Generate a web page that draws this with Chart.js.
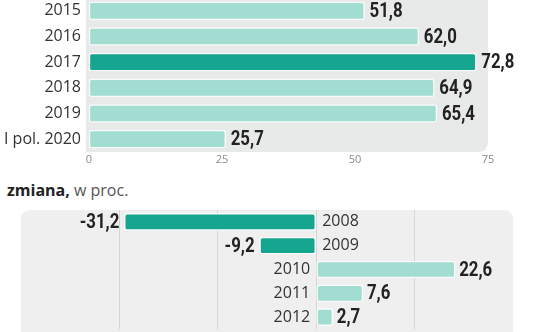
<!DOCTYPE html>
<html>
<head>
<meta charset="utf-8">
<script src="https://cdn.jsdelivr.net/npm/chart.js@4"></script>
<style>
  body { margin: 0; background: #fff; width: 536px; height: 332px; overflow: hidden; position: relative; }
  canvas { position: absolute; left: 0; }
  #top { top: -3px; }
  #bottom { top: 200px; }
  #title { position: absolute; left: 7px; top: 180px; font-family: "Open Sans", sans-serif; font-size: 16px; line-height: 20px; color: #555; }
  #title b { color: #222; font-weight: 700; }
</style>
</head>
<body>
<canvas id="top" width="536" height="180"></canvas>
<div id="title"><b>zmiana,</b> w proc.</div>
<canvas id="bottom" width="536" height="132"></canvas>
<script>
// top chart: values
const years = ['2015', '2016', '2017', '2018', '2019', 'I pol. 2020'];
const values = [51.8, 62.0, 72.8, 64.9, 65.4, 25.7];
const xTicks = [0, 25, 50, 75];

// bottom chart: change, in percent
const changeYears = ['2008', '2009', '2010', '2011', '2012'];
const changes = [-31.2, -9.2, 22.6, 7.6, 2.7];

const LIGHT = '#a2ddd2';
const DARK = '#16a58e';
const valueFont = 'bold 20px Roboto, sans-serif';
const catFont = '16px "Open Sans", sans-serif';
const SQUEEZE = 0.84;

function fmt(v) {
  return v.toFixed(1).replace('.', ',');
}

// condensed bold number: squeeze horizontally around the anchor
function drawValue(ctx, text, x, y, align) {
  ctx.save();
  ctx.font = valueFont;
  ctx.fillStyle = '#222';
  ctx.textAlign = align;
  ctx.textBaseline = 'middle';
  ctx.translate(x, y);
  ctx.scale(SQUEEZE, 1);
  ctx.fillText(text, 0, 0);
  ctx.restore();
}

function roundRect(ctx, x, y, w, h, r) {
  // r = [tl, tr, br, bl]
  ctx.beginPath();
  ctx.moveTo(x + r[0], y);
  ctx.lineTo(x + w - r[1], y);
  ctx.quadraticCurveTo(x + w, y, x + w, y + r[1]);
  ctx.lineTo(x + w, y + h - r[2]);
  ctx.quadraticCurveTo(x + w, y + h, x + w - r[2], y + h);
  ctx.lineTo(x + r[3], y + h);
  ctx.quadraticCurveTo(x, y + h, x, y + h - r[3]);
  ctx.lineTo(x, y + r[0]);
  ctx.quadraticCurveTo(x, y, x + r[0], y);
  ctx.closePath();
}

const panelTop = {
  id: 'panelTop',
  beforeDraw(chart) {
    const a = chart.chartArea, ctx = chart.ctx;
    ctx.save();
    ctx.fillStyle = '#e8e9e9';
    roundRect(ctx, a.left - 3, -10, a.right - a.left + 3, a.bottom + 10, [0, 0, 10, 0]);
    ctx.fill();
    ctx.restore();
  }
};

const panelBottom = {
  id: 'panelBottom',
  beforeDraw(chart) {
    const a = chart.chartArea, ctx = chart.ctx;
    ctx.save();
    ctx.fillStyle = '#efefef';
    roundRect(ctx, a.left, a.top, a.right - a.left, chart.height - a.top + 10, [10, 10, 0, 0]);
    ctx.fill();
    ctx.restore();
  }
};

const labelsTop = {
  id: 'labelsTop',
  afterDatasetsDraw(chart) {
    const ctx = chart.ctx, a = chart.chartArea;
    const meta = chart.getDatasetMeta(0);
    ctx.save();
    ctx.textBaseline = 'middle';
    meta.data.forEach((bar, i) => {
      ctx.font = catFont;
      ctx.fillStyle = '#333';
      ctx.textAlign = 'right';
      ctx.fillText(years[i], a.left - 8, bar.y);
      drawValue(ctx, fmt(values[i]), bar.x + 5, bar.y + 1, 'left');
    });
    ctx.restore();
  }
};

const labelsBottom = {
  id: 'labelsBottom',
  afterDatasetsDraw(chart) {
    const ctx = chart.ctx;
    const zero = chart.scales.x.getPixelForValue(0);
    const meta = chart.getDatasetMeta(0);
    ctx.save();
    ctx.textBaseline = 'middle';
    meta.data.forEach((bar, i) => {
      const v = changes[i];
      ctx.font = catFont;
      ctx.fillStyle = '#333';
      ctx.textAlign = v < 0 ? 'left' : 'right';
      ctx.fillText(changeYears[i], v < 0 ? zero + 6 : zero - 6, bar.y);
      drawValue(ctx, fmt(v), v < 0 ? bar.x - 5 : bar.x + 4, bar.y + 1, v < 0 ? 'right' : 'left');
    });
    ctx.restore();
  }
};

new Chart(document.getElementById('top').getContext('2d'), {
  type: 'bar',
  data: {
    labels: years,
    datasets: [{
      data: values,
      backgroundColor: years.map(y => y === '2017' ? DARK : LIGHT),
      borderColor: 'rgba(255,255,255,0.75)',
      borderWidth: 1.5,
      borderRadius: 3,
      borderSkipped: false,
      barThickness: 18
    }]
  },
  options: {
    indexAxis: 'y',
    responsive: false,
    animation: false,
    layout: { padding: { left: 89, right: 48, top: 1, bottom: 5 } },
    plugins: { legend: { display: false }, tooltip: { enabled: false } },
    scales: {
      x: {
        min: 0, max: 75,
        afterBuildTicks(scale) { scale.ticks = xTicks.map(v => ({ value: v })); },
        afterFit(scale) { scale.height = 20; },
        grid: { display: false, drawTicks: false },
        border: { display: false },
        ticks: { color: '#8a8a8a', font: { family: 'Open Sans', size: 11 }, padding: 1, maxRotation: 0 }
      },
      y: { display: false }
    }
  },
  plugins: [panelTop, labelsTop]
});

new Chart(document.getElementById('bottom').getContext('2d'), {
  type: 'bar',
  data: {
    labels: changeYears,
    datasets: [{
      data: changes,
      backgroundColor: changes.map(v => v < 0 ? DARK : LIGHT),
      borderColor: 'rgba(255,255,255,0.75)',
      borderWidth: 1.5,
      borderRadius: 3,
      borderSkipped: false,
      barThickness: 17
    }]
  },
  options: {
    indexAxis: 'y',
    responsive: false,
    animation: false,
    layout: { padding: { left: 21, right: 23, top: 10, bottom: 3 } },
    plugins: { legend: { display: false }, tooltip: { enabled: false } },
    scales: {
      x: {
        min: -48, max: 32,
        ticks: { display: false, stepSize: 16 },
        grid: {
          drawTicks: false,
          color: ctx => (ctx.tick && (ctx.tick.value === -48 || ctx.tick.value === 32)) ? 'rgba(0,0,0,0)' : '#d6d6d6'
        },
        border: { display: false }
      },
      y: { display: false }
    }
  },
  plugins: [panelBottom, labelsBottom]
});
</script>
</body>
</html>
